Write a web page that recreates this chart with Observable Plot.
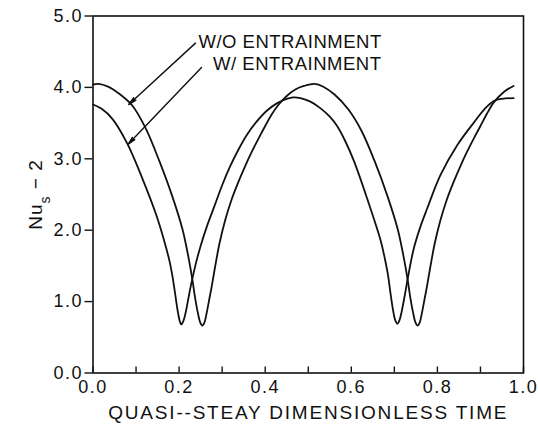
<!DOCTYPE html>
<html>
<head>
<meta charset="utf-8">
<script src="https://cdn.jsdelivr.net/npm/d3@7"></script>
<script src="https://cdn.jsdelivr.net/npm/@observablehq/plot@0.6"></script>
<style>
  html, body { margin: 0; padding: 0; background: #fff; }
  svg text { font-family: "Liberation Sans", Arial, sans-serif; }
</style>
</head>
<body>
<div id="chart"></div>
<script>
// W/O entrainment
const timeWO = [0.0, 0.013, 0.035, 0.061, 0.092, 0.123, 0.154, 0.185, 0.208, 0.223, 0.231, 0.237, 0.243, 0.249, 0.254, 0.259, 0.264, 0.270, 0.276, 0.284, 0.294, 0.307, 0.322, 0.338, 0.355, 0.369, 0.385, 0.400, 0.415, 0.430, 0.450, 0.470, 0.490, 0.515, 0.535, 0.561, 0.592, 0.623, 0.654, 0.685, 0.708, 0.723, 0.731, 0.737, 0.743, 0.749, 0.754, 0.759, 0.764, 0.770, 0.776, 0.784, 0.794, 0.807, 0.822, 0.838, 0.855, 0.869, 0.885, 0.900, 0.915, 0.931, 0.955, 0.977];
const nuWO   = [4.04, 4.05, 4.01, 3.91, 3.74, 3.42, 2.97, 2.46, 2.01, 1.58, 1.30, 1.06, 0.86, 0.71, 0.665, 0.71, 0.84, 1.03, 1.22, 1.50, 1.82, 2.14, 2.43, 2.68, 2.92, 3.10, 3.29, 3.46, 3.62, 3.75, 3.88, 3.97, 4.02, 4.05, 4.01, 3.90, 3.70, 3.40, 2.97, 2.46, 2.01, 1.58, 1.30, 1.06, 0.86, 0.71, 0.665, 0.71, 0.84, 1.03, 1.22, 1.50, 1.82, 2.14, 2.43, 2.68, 2.92, 3.10, 3.29, 3.46, 3.63, 3.79, 3.94, 4.02];
// W/ entrainment
const timeW = [0.0, 0.020, 0.045, 0.080, 0.115, 0.146, 0.165, 0.178, 0.185, 0.191, 0.197, 0.201, 0.205, 0.210, 0.215, 0.222, 0.230, 0.240, 0.250, 0.265, 0.281, 0.300, 0.319, 0.338, 0.358, 0.380, 0.405, 0.428, 0.450, 0.465, 0.482, 0.505, 0.528, 0.550, 0.567, 0.585, 0.606, 0.637, 0.668, 0.678, 0.685, 0.691, 0.697, 0.702, 0.707, 0.712, 0.717, 0.724, 0.731, 0.745, 0.760, 0.776, 0.807, 0.846, 0.885, 0.910, 0.931, 0.950, 0.977];
const nuW   = [3.76, 3.70, 3.56, 3.21, 2.72, 2.23, 1.86, 1.56, 1.34, 1.10, 0.86, 0.74, 0.68, 0.73, 0.84, 1.06, 1.30, 1.56, 1.78, 2.06, 2.32, 2.63, 2.90, 3.13, 3.34, 3.52, 3.68, 3.78, 3.84, 3.86, 3.85, 3.80, 3.71, 3.59, 3.46, 3.26, 2.97, 2.44, 1.86, 1.60, 1.38, 1.12, 0.88, 0.74, 0.69, 0.74, 0.86, 1.08, 1.32, 1.74, 2.04, 2.30, 2.77, 3.19, 3.51, 3.70, 3.81, 3.84, 3.85];

const xTickLabels = [0.0, 0.2, 0.4, 0.6, 0.8, 1.0];
const xTickMarks  = [0.0, 0.1, 0.2, 0.3, 0.4, 0.5, 0.6, 0.7, 0.8, 0.9, 1.0];
const yTickLabels = [0.0, 1.0, 2.0, 3.0, 4.0, 5.0];

const seriesNames = ["W/O ENTRAINMENT", "W/ ENTRAINMENT"];
// annotation anchors (t, Nu) and leader arrows
const labelT = [0.245, 0.279];
const labelV = [4.63, 4.33];
const arrowFromT = [0.238, 0.252];
const arrowFromV = [4.62, 4.28];
const arrowToT = [0.083, 0.081];
const arrowToV = [3.76, 3.20];

const xTitle = "QUASI--STEAY DIMENSIONLESS TIME";
const yTitle = "Nus − 2";

const woData = timeWO.map((t, i) => ({t, v: nuWO[i]}));
const wData = timeW.map((t, i) => ({t, v: nuW[i]}));
const labels = seriesNames.map((name, i) => ({name, t: labelT[i], v: labelV[i]}));
const arrows = seriesNames.map((name, i) => ({x1: arrowFromT[i], y1: arrowFromV[i], x2: arrowToT[i], y2: arrowToV[i]}));

const fmt = d3.format(".1f");

const chart = Plot.plot({
  width: 538,
  height: 433,
  marginLeft: 92.5,
  marginRight: 15,
  marginTop: 15.5,
  marginBottom: 60.5,
  style: {fontFamily: "Liberation Sans, Arial, sans-serif", color: "#111", background: "#fff"},
  x: {domain: [0, 1]},
  y: {domain: [0, 5]},
  marks: [
    Plot.frame({stroke: "#111", strokeWidth: 1.6}),
    Plot.axisX(xTickMarks, {tickSize: -6, text: null, strokeWidth: 1.4, label: null}),
    Plot.axisX(xTickLabels, {tickSize: 0, tickPadding: 7, tickFormat: fmt, fontSize: 18, label: null}),
    Plot.axisY(yTickLabels, {tickSize: 8, tickPadding: 2, tickFormat: fmt, fontSize: 18, strokeWidth: 1.4, label: null}),
    Plot.line(woData, {x: "t", y: "v", curve: "catmull-rom", stroke: "#111", strokeWidth: 1.8}),
    Plot.line(wData, {x: "t", y: "v", curve: "catmull-rom", stroke: "#111", strokeWidth: 1.8}),
    Plot.arrow(arrows, {x1: "x1", y1: "y1", x2: "x2", y2: "y2", stroke: "#111", strokeWidth: 1.4, headLength: 9, headAngle: 22}),
    Plot.text(labels, {x: "t", y: "v", text: "name", textAnchor: "start", fontSize: 18.5, fill: "#111"}),
    Plot.text([xTitle], {frameAnchor: "bottom", dy: 40, text: d => d, fontSize: 19, fill: "#111", textAnchor: "middle", lineAnchor: "middle"}),
    Plot.text([yTitle], {frameAnchor: "left", dx: -57, rotate: -90, text: d => d, fontSize: 19, fill: "#111", textAnchor: "middle", lineAnchor: "middle"})
  ]
});

document.getElementById("chart").appendChild(chart);

// typographic touches: letter spacing and subscript
d3.select(chart).selectAll("text").each(function() {
  const s = this.textContent;
  const el = d3.select(this);
  if (/^\d\.\d$/.test(s)) {
    el.style("letter-spacing", "1.5px");
  } else if (s === xTitle) {
    el.style("letter-spacing", "1.8px");
  } else if (seriesNames.includes(s)) {
    el.style("letter-spacing", "0.5px");
  } else if (s === yTitle) {
    el.text(null);
    el.style("letter-spacing", "1px");
    el.append("tspan").text("Nu");
    el.append("tspan").attr("baseline-shift", "sub").attr("font-size", "14").text("s");
    el.append("tspan").text(" − 2");
  }
});
</script>
</body>
</html>
